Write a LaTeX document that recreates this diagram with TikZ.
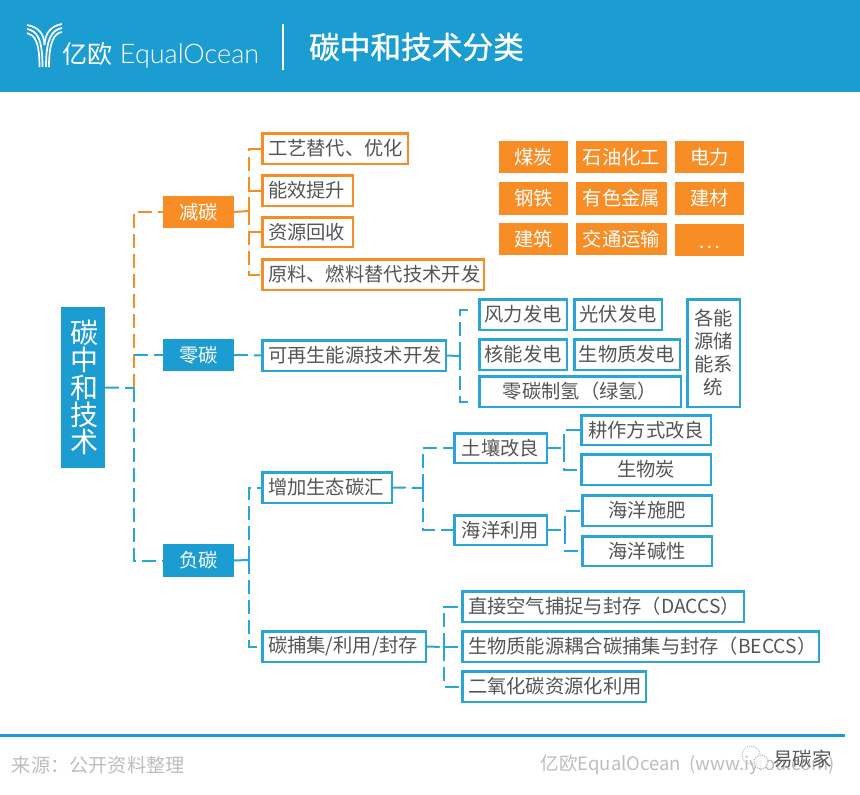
\documentclass[tikz,border=0pt]{standalone}
\usepackage{fontspec}
\setmainfont{Noto Sans CJK SC}
\newfontfamily\logofont[UprightFont={* Light}]{Lato}
\newfontfamily\dotfont{Lato}
\definecolor{hdr}{HTML}{1C9DD2}
\definecolor{cblue}{HTML}{2AA5D8}
\definecolor{corange}{HTML}{F98D25}
\definecolor{ctext}{HTML}{555555}
\definecolor{cfoot}{HTML}{BDBDBD}
\newcommand{\fs}[1]{\fontsize{#1}{#1}\selectfont}
\tikzset{
  base/.style={inner sep=0pt,outer sep=0pt,font=\fs{19.3},anchor=center},
  solidblue/.style={base,fill=hdr,text=white},
  solidorange/.style={base,fill=corange,text=white},
  lineblue/.style={base,draw=cblue,line width=2.5pt,fill=white,text=ctext},
  lineorange/.style={base,draw=corange,line width=2.5pt,fill=white,text=ctext},
  cb/.style={draw=cblue,line width=2pt,dash pattern=on 14pt off 6pt},
  co/.style={draw=corange,line width=2pt,dash pattern=on 14pt off 6pt},
  logostroke/.style={draw=white,line width=1.7pt}
}
% filled box: outer edges given
\newcommand{\fx}[7]{\node[#6,minimum width={(#4)-(#2)},minimum height={(#5)-(#3)}] (#1) at ({((#2)+(#4))/2},{((#3)+(#5))/2}) {#7};}
% outlined box, centred text
\newcommand{\bx}[7]{\node[#6,minimum width={(#4)-(#2)-2.5},minimum height={(#5)-(#3)-2.5}] (#1) at ({((#2)+(#4))/2},{((#3)+(#5))/2}) {#7};}
% outlined box, left-aligned text
\newcommand{\lx}[7]{\pgfmathsetlengthmacro{\lxw}{(#4)-(#2)-14}\node[#6,minimum width={(#4)-(#2)-2.5},minimum height={(#5)-(#3)-2.5}] (#1) at ({((#2)+(#4))/2},{((#3)+(#5))/2}) {\makebox[\lxw][l]{#7}};}
\begin{document}
\begin{tikzpicture}[x=1pt,y=-1pt]
\useasboundingbox (0,0) rectangle (860,795);
% header
\fill[hdr] (0,0) rectangle (860,92);
\draw[logostroke] (27,33) .. controls (34,35) and (39.5,40) .. (39.5,67);
\draw[logostroke] (27,29) .. controls (37,31) and (42.5,38) .. (42.5,67);
\draw[logostroke] (27,25) .. controls (38,27) and (44,33) .. (44.5,45);
\draw[logostroke] (62,32) .. controls (55,33) and (49,40) .. (49,67);
\draw[logostroke] (62,28) .. controls (52,30) and (46,38) .. (46,67);
\draw[logostroke] (62,24) .. controls (51,26) and (45,33) .. (44.5,45);
\node[base,text=white,anchor=west] (logotext) at (62,55) {\fs{25}亿欧\hspace{8pt}{\logofont\fs{27}EqualOcean}};
\draw[white,line width=2.5pt] (283,24) -- (283,70);
\node[base,text=white,anchor=west,font=\fs{30.7}] (title) at (309,47) {\addfontfeature{FakeBold=1}碳中和技术分类};
% root and level 1
\fx{root}{61}{307}{105}{468}{solidblue}{\parbox{44pt}{\centering\fontsize{28}{27.2}\selectfont\hspace*{3pt}碳\\\hspace*{3pt}中\\\hspace*{3pt}和\\\hspace*{3pt}技\\\hspace*{3pt}术}}
\fx{jt}{163}{196}{234}{228}{solidorange}{减碳}
\fx{lt}{163}{339}{234}{371}{solidblue}{零碳}
\fx{ft}{163}{544}{234}{577}{solidblue}{负碳}
% jian tan children
\lx{a1}{261}{132}{409}{165}{lineorange}{工艺替代、优化}
\lx{a2}{261}{174}{354}{207}{lineorange}{能效提升}
\lx{a3}{261}{216}{354}{248}{lineorange}{资源回收}
\lx{a4}{261}{258}{485}{291}{lineorange}{原料、燃料替代技术开发}
% industry tags
\fx{t1}{499}{141}{568}{173}{solidorange}{煤炭}
\fx{t2}{576}{141}{667}{173}{solidorange}{石油化工}
\fx{t3}{675}{141}{744}{173}{solidorange}{电力}
\fx{t4}{499}{182}{568}{215}{solidorange}{钢铁}
\fx{t5}{576}{182}{667}{215}{solidorange}{有色金属}
\fx{t6}{675}{182}{744}{215}{solidorange}{建材}
\fx{t7}{499}{223}{568}{255}{solidorange}{建筑}
\fx{t8}{576}{223}{667}{255}{solidorange}{交通运输}
\fx{t9}{675}{224}{744}{256}{solidorange}{\raisebox{0pt}[16pt][0pt]{\dotfont\fs{20}.\hspace{3pt}.\hspace{3pt}.}}
% ling tan
\lx{b0}{261}{339}{447}{372}{lineblue}{可再生能源技术开发}
\bx{b1}{478}{298}{568}{331}{lineblue}{风力发电}
\bx{b2}{573}{298}{663}{331}{lineblue}{光伏发电}
\bx{b3}{478}{338}{568}{371}{lineblue}{核能发电}
\bx{b4}{573}{338}{681}{371}{lineblue}{生物质发电}
\bx{b5}{478}{375}{682}{408}{lineblue}{零碳制氢（绿氢）}
\bx{b6}{686}{298}{741}{408}{lineblue}{\parbox{50pt}{\centering\fontsize{19.3}{23}\selectfont 各能\\源储\\能系\\统}}
% fu tan
\lx{c0}{261}{471}{393}{504}{lineblue}{增加生态碳汇}
\lx{d0}{261}{630}{427}{663}{lineblue}{碳捕集/利用/封存}
\bx{c1}{453}{432}{548}{464}{lineblue}{土壤改良}
\bx{c2}{453}{514}{548}{546}{lineblue}{海洋利用}
\bx{c3}{580}{414}{712}{446}{lineblue}{耕作方式改良}
\bx{c4}{580}{453}{712}{486}{lineblue}{生物炭}
\bx{c5}{581}{494}{713}{527}{lineblue}{海洋施肥}
\bx{c6}{581}{535}{713}{567}{lineblue}{海洋碱性}
\lx{d1}{461}{590}{745}{623}{lineblue}{直接空气捕捉与封存（DACCS）}
\lx{d2}{461}{630}{820}{663}{lineblue}{生物质能源耦合碳捕集与封存（BECCS）}
\lx{d3}{461}{670}{647}{703}{lineblue}{二氧化碳资源化利用}
% junction coordinates
\coordinate (jroot) at (134,388);
\coordinate (jjt) at (249,211);
\coordinate (jft) at (249,560);
\coordinate (jb) at (460,356);
\coordinate (jbt) at (468,310);
\coordinate (jbb) at (468,402);
\coordinate (jc) at (423,488);
\coordinate (jc1) at (564,448);
\coordinate (jc2) at (565,530);
\coordinate (jd) at (444,647);
% connectors
\draw[co] (jroot) |- (jt.west);
\draw[cb] (root.east) -- (jroot);
\draw[cb] (jroot) |- (ft.west);
\draw[cb] (134,355) -- (lt.west);
\draw[co] (jt.east) -- (jjt);
\draw[co] (jjt) |- (a1.west);
\draw[co] (jjt) |- (a2.west);
\draw[co] (jjt) |- (a3.west);
\draw[co] (jjt) |- (a4.west);
\draw[cb] (lt.east) -- (b0.west);
\draw[cb] (b0.east) -- (jb);
\draw[cb] (jb) |- (jbt);
\draw[cb] (jb) |- (jbb);
\draw[cb] (ft.east) -- (jft);
\draw[cb] (jft) |- (c0.west);
\draw[cb] (jft) |- (d0.west);
\draw[cb] (c0.east) -- (jc);
\draw[cb] (jc) |- (c1.west);
\draw[cb] (jc) |- (c2.west);
\draw[cb] (c1.east) -- (jc1);
\draw[cb] (jc1) |- (c3.west);
\draw[cb] (jc1) |- (c4.west);
\draw[cb] (c2.east) -- (jc2);
\draw[cb] (jc2) |- (c5.west);
\draw[cb] (jc2) |- (c6.west);
\draw[cb] (d0.east) -- (jd);
\draw[cb] (jd) |- (d1.west);
\draw[cb] (jd) |- (d2.west);
\draw[cb] (jd) |- (d3.west);
% footer
\draw[hdr,line width=3pt] (0,735) -- (845,735);
\node[base,text=cfoot,anchor=west,font=\fs{19.2}] (src) at (12,765) {来源：公开资料整理};
\node[base,text=cfoot,anchor=east,font=\fs{18.5}] (site) at (835,765) {亿欧EqualOcean\hspace{8pt}(www.iyiou.com)};
% watermark
\draw[gray!50,line width=1pt,densely dotted] (751,755) circle (9);
\draw[gray!60,line width=1pt,densely dotted,fill=white,fill opacity=0.8] (761,762) circle (7);
\node[base,text=black!65,anchor=west,font=\fs{19.5}] (mark) at (773,759) {易碳家};
\end{tikzpicture}
\end{document}
